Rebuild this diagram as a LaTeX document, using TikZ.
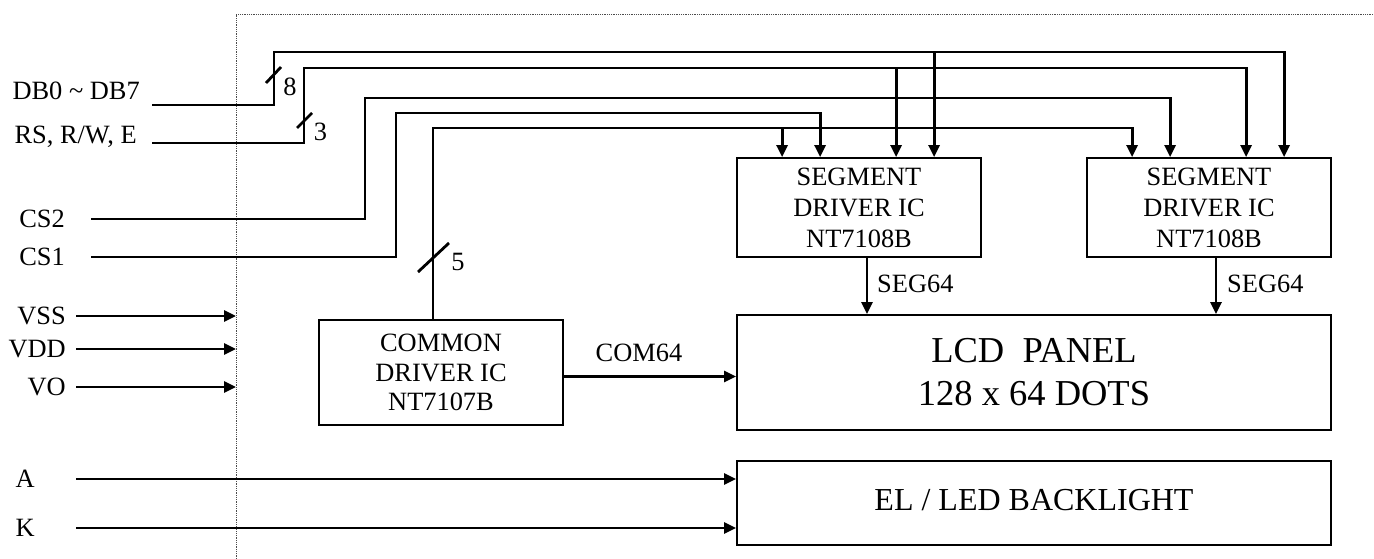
\documentclass[tikz,border=0pt]{standalone}
\usepackage{fontspec}
\setmainfont{Liberation Serif}
\usetikzlibrary{arrows.meta,calc,positioning}

\newcommand\icfont{\fontsize{26.4}{31}\selectfont}
\newcommand\comfont{\fontsize{26.4}{29.5}\selectfont}
\newcommand\panelfont{\fontsize{36.5}{43}\selectfont}
\newcommand\lightfont{\fontsize{32}{38}\selectfont}

\tikzset{
  wire/.style={line width=2.8pt},
  feed/.style={wire, -{Triangle[length=12pt,width=11pt]}},
  icbox/.style={draw, line width=1.8pt, inner sep=0pt, align=center, font=\icfont},
  pinname/.style={inner sep=0pt, font=\icfont},
  frame/.style={line width=0.9pt, black!70, dash pattern=on 0.9pt off 0.9pt},
}

\begin{document}
\begin{tikzpicture}[x=1pt,y=-1pt]
  \useasboundingbox (0,0) rectangle (1374,559);

  % module outline
  \coordinate (edge) at (236,14);
  \draw[frame] (edge |- 0,559) -- (edge) -- (1374,14);

  % driver ICs
  \node[icbox, minimum width=244pt, minimum height=99pt] (seg1) at (859,207.5) {SEGMENT\\DRIVER IC\\NT7108B};
  \node[icbox, minimum width=244pt, minimum height=99pt] (seg2) at (1209,207.5) {SEGMENT\\DRIVER IC\\NT7108B};
  \node[icbox, font=\comfont, minimum width=244pt, minimum height=105pt] (com) at (441,372.5) {COMMON\\DRIVER IC\\NT7107B};

  % panel and backlight
  \node[icbox, font=\panelfont, minimum width=594pt, minimum height=115pt] (lcd) at (1034,372.5) {LCD\ \ PANEL\\128 x 64 DOTS};
  \node[icbox, font=\lightfont, text height=22pt, text depth=8pt, minimum width=594pt, minimum height=84pt] (bl) at (1034,503) {EL / LED BACKLIGHT};

  % input pins
  \coordinate (dbin) at (152,105);
  \coordinate (rsin) at (152,143);
  \coordinate (cs2in) at (91,219);
  \coordinate (cs1in) at (91,257);
  \node[pinname, left=12pt of dbin, yshift=14pt] (db) {DB0 \textasciitilde{} DB7};
  \node[pinname, left=15pt of rsin, yshift=6pt] (rs) {RS, R/W, E};
  \node[pinname, left=26pt of cs2in] (cs2) {CS2};
  \node[pinname, left=26pt of cs1in] (cs1) {CS1};

  % bus rails
  \coordinate (dbrail) at (274,52);
  \coordinate (rsrail) at (304,68);
  \coordinate (cs2rail) at (365,98);
  \coordinate (cs1rail) at (396,113);
  \coordinate (comrail) at (433,128);

  \foreach \ic in {seg1,seg2}
    \foreach \pin/\dx in {com/46,cs/84,rs/160,db/198}
      \coordinate (\ic\pin) at ($(\ic.north west)+(\dx,0)$);

  \draw[feed] (dbin) -| (dbrail) -| (seg2db);
  \draw[feed] (seg1db |- dbrail) -- (seg1db);
  \draw[feed] (rsin) -| (rsrail) -| (seg2rs);
  \draw[feed] (seg1rs |- rsrail) -- (seg1rs);
  \draw[feed] (cs2in) -| (cs2rail) -| (seg2cs);
  \draw[feed] (cs1in) -| (cs1rail) -| (seg1cs);
  \draw[feed] (com.north -| comrail) -- (comrail) -| (seg2com);
  \draw[feed] (seg1com |- comrail) -- (seg1com);

  % bus widths
  \draw[wire] ($(dbrail)+(-8,31)$) -- ++(15,-16);
  \node[pinname] (dbwidth) at (290,87) {8};
  \draw[wire] ($(rsrail)+(-7,60)$) -- ++(15,-15);
  \node[pinname] (rswidth) at (320.5,132) {3};
  \draw[wire] ($(comrail)+(-15,144)$) -- ++(31,-29);
  \node[pinname] (comwidth) at (458,262) {5};

  % supply pins
  \foreach \pin/\y in {VSS/316,VDD/349,VO/387} {
    \coordinate (\pin) at (76,\y);
    \node[pinname, left=10pt of \pin] (\pin-name) {\pin};
    \draw[feed] (\pin) -- (\pin -| edge);
  }

  % backlight pins
  \foreach \pin/\y in {A/479,K/528} {
    \coordinate (\pin) at (76,\y);
    \node[pinname, left=41pt of \pin] (\pin-name) {\pin};
    \draw[feed] (\pin) -- (\pin -| bl.west);
  }

  % driver outputs
  \coordinate (seg1out) at ($(seg1.south)+(8,0)$);
  \coordinate (seg2out) at ($(seg2.south)+(7,0)$);
  \draw[feed] (seg1out) -- (seg1out |- lcd.north);
  \draw[feed] (seg2out) -- (seg2out |- lcd.north);
  \node[pinname, anchor=west] (seg1lbl) at (877,284) {SEG64};
  \node[pinname, anchor=west] (seg2lbl) at (1227,284) {SEG64};
  \draw[feed] ([yshift=-4pt]com.east) -- ([yshift=-4pt]lcd.west);
  \node[pinname] (comlbl) at (639,353) {COM64};
\end{tikzpicture}
\end{document}
